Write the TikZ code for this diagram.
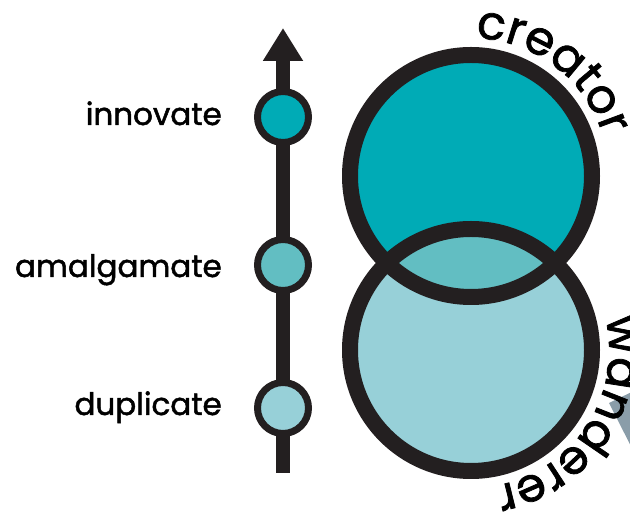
\documentclass[tikz,border=0pt]{standalone}
\usepackage{fontspec}
\setmainfont{Poppins}
\newfontfamily\labelfont{Poppins}[FakeBold=1.6]
\usetikzlibrary{arrows.meta,decorations.text}

\definecolor{inkdark}{HTML}{231F20}
\definecolor{tealdeep}{HTML}{00ABB6}
\definecolor{tealmid}{HTML}{62BEC2}
\definecolor{teallight}{HTML}{97D0D8}
\definecolor{slate}{HTML}{8A9DA9}

\tikzset{
  stage/.style={circle, draw=inkdark, line width=7pt, minimum size=51pt, inner sep=0pt},
  stagelabel/.style={anchor=base east, inner sep=0pt, font=\labelfont\fontsize{31}{31}\selectfont, text=black},
  bigc/.style={circle, minimum size=242pt, inner sep=0pt},
  ring/.style={draw=inkdark, line width=16pt},
  axisline/.style={draw=inkdark, line width=14pt, -{Triangle[width=38pt 0 0, length=33pt 0 0]}},
}

\begin{document}
\begin{tikzpicture}[x=1pt, y=1pt]
  \useasboundingbox (0,0) rectangle (630,514);
  \clip (0,0) rectangle (630,514);

  % progression axis
  \coordinate (axisbot) at (283,41);
  \coordinate (axistop) at (283,486);
  \draw[axisline] (axisbot) -- (axistop);

  % stages on the axis
  \node[stage, fill=tealdeep]  (innov) at (283,397) {};
  \node[stage, fill=tealmid]   (amalg) at (283,249) {};
  \node[stage, fill=teallight] (dupl)  at (283,106) {};

  \node[stagelabel] (innovlbl) at (222,389) {innovate};
  \node[stagelabel] (amalglbl) at (222,237) {amalgamate};
  \node[stagelabel] (dupllbl)  at (222,99)  {duplicate};

  % overlapping circles
  \node[bigc, fill=tealdeep]  (creator)  at (471,338) {};
  \node[bigc, fill=teallight] (wanderer) at (471,164) {};
  \begin{scope}
    \clip (creator.center) circle[radius=121];
    \fill[tealmid] (wanderer.center) circle[radius=121];
  \end{scope}
  \draw[ring] (creator.center) circle[radius=121];
  \draw[ring] (wanderer.center) circle[radius=121];

  % slate wedge at the right edge
  \fill[slate] (609,111) -- (640,126) -- (640,50) -- cycle;

  % curved titles
  \path[decorate, decoration={text along path, text align=center,
      text={|\labelfont\fontsize{47}{47}\selectfont|creator}}]
    ([shift={(102:138)}]creator.center) arc[start angle=102, end angle=3, radius=138];
  \path[decorate, decoration={text along path, text align=center,
      text={|\labelfont\fontsize{47}{47}\selectfont|wanderer}}]
    ([shift={(20:138)}]wanderer.center) arc[start angle=20, end angle=-86, radius=138];
\end{tikzpicture}
\end{document}
